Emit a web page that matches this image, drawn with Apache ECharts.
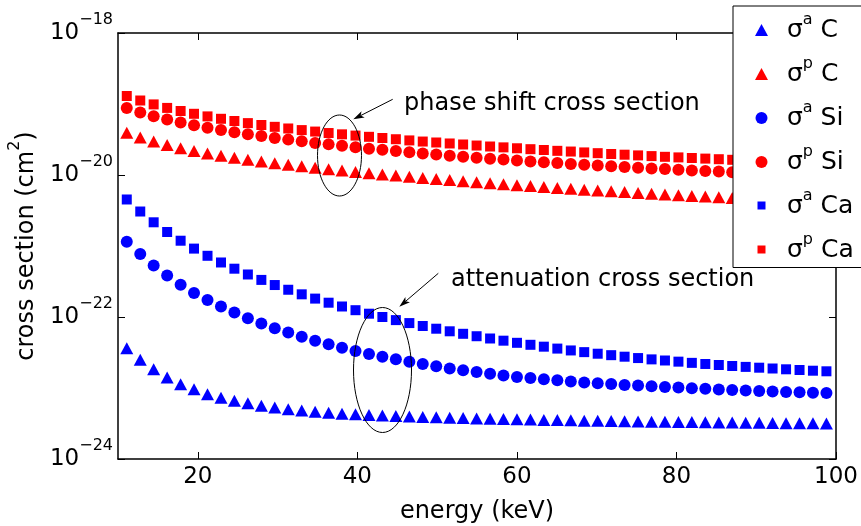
<!DOCTYPE html>
<html><head><meta charset="utf-8">
<script src="https://cdn.jsdelivr.net/npm/echarts@6/dist/echarts.min.js"></script>
<style>html,body{margin:0;padding:0;background:#fff}#c{width:861px;height:526px}</style>
</head><body><div id="c"></div>
<script>
// ---- data ----
const energy = [11.10,12.79,14.47,16.16,17.85,19.53,21.22,22.91,24.59,26.28,27.97,29.65,31.34,33.03,34.71,36.40,38.08,39.77,41.46,43.14,44.83,46.52,48.20,49.89,51.58,53.26,54.95,56.64,58.32,60.01,61.70,63.38,65.07,66.76,68.44,70.13,71.82,73.50,75.19,76.88,78.56,80.25,81.93,83.62,85.31,86.99,88.68,90.37,92.05,93.74,95.43,97.11,98.80];
const sigmaA_C = [3.62e-23,2.50e-23,1.83e-23,1.40e-23,1.13e-23,9.62e-24,8.18e-24,7.30e-24,6.60e-24,6.09e-24,5.61e-24,5.31e-24,5.03e-24,4.82e-24,4.64e-24,4.47e-24,4.35e-24,4.26e-24,4.17e-24,4.10e-24,4.03e-24,3.97e-24,3.92e-24,3.87e-24,3.82e-24,3.78e-24,3.73e-24,3.69e-24,3.66e-24,3.62e-24,3.59e-24,3.55e-24,3.53e-24,3.50e-24,3.47e-24,3.45e-24,3.43e-24,3.41e-24,3.38e-24,3.36e-24,3.34e-24,3.32e-24,3.31e-24,3.29e-24,3.27e-24,3.26e-24,3.24e-24,3.23e-24,3.21e-24,3.20e-24,3.19e-24,3.18e-24,3.16e-24];
const sigmaP_C = [3.93e-20,3.38e-20,2.96e-20,2.65e-20,2.39e-20,2.185e-20,2.015e-20,1.870e-20,1.747e-20,1.643e-20,1.549e-20,1.466e-20,1.392e-20,1.326e-20,1.263e-20,1.207e-20,1.153e-20,1.106e-20,1.060e-20,1.020e-20,9.81e-21,9.43e-21,9.10e-21,8.78e-21,8.48e-21,8.18e-21,7.92e-21,7.66e-21,7.42e-21,7.18e-21,6.98e-21,6.78e-21,6.58e-21,6.39e-21,6.21e-21,6.05e-21,5.89e-21,5.74e-21,5.60e-21,5.45e-21,5.31e-21,5.19e-21,5.08e-21,4.96e-21,4.85e-21,4.75e-21,4.64e-21,4.53e-21,4.44e-21,4.36e-21,4.28e-21,4.19e-21,4.11e-21];
const sigmaA_Si = [1.150e-21,7.71e-22,5.33e-22,3.83e-22,2.84e-22,2.185e-22,1.730e-22,1.401e-22,1.153e-22,9.62e-23,8.13e-23,6.96e-23,6.03e-23,5.26e-23,4.64e-23,4.13e-23,3.69e-23,3.33e-23,3.02e-23,2.76e-23,2.54e-23,2.34e-23,2.17e-23,2.02e-23,1.888e-23,1.776e-23,1.675e-23,1.585e-23,1.505e-23,1.433e-23,1.383e-23,1.330e-23,1.284e-23,1.239e-23,1.199e-23,1.165e-23,1.135e-23,1.106e-23,1.081e-23,1.057e-23,1.033e-23,1.013e-23,9.94e-24,9.74e-24,9.56e-24,9.40e-24,9.25e-24,9.10e-24,8.96e-24,8.81e-24,8.70e-24,8.59e-24,8.48e-24];
const sigmaP_Si = [8.78e-20,7.59e-20,6.73e-20,6.05e-20,5.49e-20,5.03e-20,4.64e-20,4.30e-20,4.01e-20,3.75e-20,3.53e-20,3.33e-20,3.15e-20,2.98e-20,2.83e-20,2.70e-20,2.58e-20,2.46e-20,2.35e-20,2.26e-20,2.17e-20,2.09e-20,2.01e-20,1.938e-20,1.870e-20,1.810e-20,1.752e-20,1.696e-20,1.648e-20,1.600e-20,1.554e-20,1.510e-20,1.471e-20,1.433e-20,1.397e-20,1.361e-20,1.326e-20,1.296e-20,1.267e-20,1.239e-20,1.211e-20,1.184e-20,1.161e-20,1.138e-20,1.117e-20,1.095e-20,1.074e-20,1.053e-20,1.036e-20,1.020e-20,1.003e-20,9.87e-21,9.71e-21];
const sigmaA_Ca = [4.52e-21,3.06e-21,2.157e-21,1.575e-21,1.187e-21,9.19e-22,7.28e-22,5.86e-22,4.79e-22,3.97e-22,3.33e-22,2.82e-22,2.42e-22,2.087e-22,1.816e-22,1.590e-22,1.406e-22,1.247e-22,1.113e-22,1.000e-22,9.04e-23,8.21e-23,7.47e-23,6.84e-23,6.29e-23,5.80e-23,5.36e-23,4.98e-23,4.64e-23,4.33e-23,4.06e-23,3.82e-23,3.59e-23,3.38e-23,3.20e-23,3.04e-23,2.90e-23,2.76e-23,2.64e-23,2.53e-23,2.44e-23,2.35e-23,2.26e-23,2.18e-23,2.11e-23,2.04e-23,1.983e-23,1.932e-23,1.882e-23,1.834e-23,1.792e-23,1.752e-23,1.719e-23];
const sigmaP_Ca = [1.296e-19,1.120e-19,9.87e-20,8.81e-20,7.97e-20,7.28e-20,6.69e-20,6.19e-20,5.76e-20,5.38e-20,5.06e-20,4.77e-20,4.52e-20,4.29e-20,4.09e-20,3.90e-20,3.74e-20,3.59e-20,3.45e-20,3.32e-20,3.19e-20,3.07e-20,2.96e-20,2.87e-20,2.78e-20,2.69e-20,2.60e-20,2.52e-20,2.45e-20,2.38e-20,2.31e-20,2.25e-20,2.19e-20,2.14e-20,2.08e-20,2.03e-20,1.976e-20,1.932e-20,1.888e-20,1.846e-20,1.804e-20,1.770e-20,1.735e-20,1.702e-20,1.669e-20,1.637e-20,1.605e-20,1.575e-20,1.549e-20,1.524e-20,1.500e-20,1.476e-20,1.452e-20];
const seriesSup = ['a','p','a','p','a','p'];
const seriesElem = ['C','C','Si','Si','Ca','Ca'];
const xTicks = [20,40,60,80,100];
const yTickExp = [-24,-22,-20,-18];
const xAxisTitle = 'energy (keV)';
const yAxisTitle = ['cross section (cm','2',')'];
const noteTexts = ['phase shift cross section','attenuation cross section'];

// ---- chart ----
// ECharts' log scale rounds values below ~1e-20 to 0, so the axis works in units of 1e-24 cm^2
// and the labels show the true powers of ten.
const Y_UNIT = 1e-24;
const FONT = 'DejaVu Sans';
const seriesData = [sigmaA_C, sigmaP_C, sigmaA_Si, sigmaP_Si, sigmaA_Ca, sigmaP_Ca];
const colors = ['#0000ff','#ff0000','#0000ff','#ff0000','#0000ff','#ff0000'];
const symbols = ['triangle','triangle','circle','circle','rect','rect'];
const symSizes = [[13,12],[13,12],12,12,10,10];
const names = seriesSup.map((s,i)=>'σ'+s+' '+seriesElem[i]);
const sqIcon = 'path://M0,0M13,12M2.5,1.5L10.5,1.5L10.5,9.5L2.5,9.5Z';
const legendIcons = ['triangle','triangle','circle','circle',sqIcon,sqIcon];
const yMin = Math.pow(10, yTickExp[0]) / Y_UNIT;
const yMax = Math.pow(10, yTickExp[yTickExp.length-1]) / Y_UNIT;

const chart = echarts.init(document.getElementById('c'), null, {renderer:'canvas'});

function arrow(x1,y1,x2,y2){
  const dx=x2-x1, dy=y2-y1, L=Math.hypot(dx,dy), ux=dx/L, uy=dy/L, hl=11, hw=3.5;
  const bx=x2-ux*hl, by=y2-uy*hl, nx=x2-ux*hl*0.75, ny=y2-uy*hl*0.75;
  return [
    {type:'line', z:100, shape:{x1:x1,y1:y1,x2:nx,y2:ny}, style:{stroke:'#000', lineWidth:1}},
    {type:'polygon', z:100, shape:{points:[[x2,y2],[bx-uy*hw,by+ux*hw],[nx,ny],[bx+uy*hw,by-ux*hw]]}, style:{fill:'#000'}}
  ];
}

const axisLineStyle = {color:'#000', width:1.5};
const tickStyle = {color:'#000', width:1};
const option = {
  animation:false,
  backgroundColor:'#fff',
  grid:{left:118, right:25, top:33, bottom:67, containLabel:false, outerBoundsMode:'none'},
  xAxis:[
    {type:'value', min:10, max:100, position:'bottom',
     axisLine:{show:true, onZero:false, lineStyle:axisLineStyle},
     axisTick:{show:true, inside:true, length:7, customValues:xTicks, lineStyle:tickStyle},
     axisLabel:{customValues:xTicks, fontFamily:FONT, fontSize:23, color:'#000', margin:7},
     splitLine:{show:false},
     name:xAxisTitle, nameLocation:'middle', nameGap:41,
     nameTextStyle:{fontFamily:FONT, fontSize:24, color:'#000'}},
    {type:'value', min:10, max:100, position:'top',
     axisLine:{show:true, onZero:false, lineStyle:axisLineStyle},
     axisTick:{show:true, inside:true, length:7, customValues:xTicks, lineStyle:tickStyle},
     axisLabel:{show:false}, splitLine:{show:false}}
  ],
  yAxis:[
    {type:'log', logBase:10, min:yMin, max:yMax, interval:2, position:'left',
     axisLine:{show:true, onZero:false, lineStyle:axisLineStyle},
     axisTick:{show:true, inside:true, length:7, lineStyle:tickStyle},
     minorTick:{show:false}, splitLine:{show:false},
     axisLabel:{margin:5, color:'#000',
       formatter:function(v){
         const e = Math.round(Math.log10(v * Y_UNIT));
         const k = yTickExp.indexOf(e);
         if (k<0) return '';
         return '{b|10}{s|\u2212'+Math.abs(yTickExp[k])+'}';
       },
       rich:{b:{fontFamily:FONT, fontSize:23, lineHeight:42, color:'#000'},
             s:{fontFamily:FONT, fontSize:16, lineHeight:16, verticalAlign:'top', color:'#000'}}},
     name:'{n|'+yAxisTitle[0]+'}{s|'+yAxisTitle[1]+'}{n|'+yAxisTitle[2]+'}',
     nameLocation:'middle', nameGap:68,
     nameTextStyle:{color:'#000', rich:{
       n:{fontFamily:FONT, fontSize:24, lineHeight:40, color:'#000'},
       s:{fontFamily:FONT, fontSize:16, lineHeight:16, verticalAlign:'top', color:'#000'}}}},
    {type:'log', logBase:10, min:yMin, max:yMax, interval:2, position:'right',
     axisLine:{show:true, onZero:false, lineStyle:axisLineStyle},
     axisTick:{show:true, inside:true, length:7, lineStyle:tickStyle},
     minorTick:{show:false}, splitLine:{show:false}, axisLabel:{show:false}}
  ],
  legend:{
    orient:'vertical', left:733, top:6, padding:[6,20,5,22], itemGap:13.5,
    itemWidth:13, itemHeight:12, backgroundColor:'#fff', borderColor:'#000', borderWidth:1,
    borderRadius:0, selectedMode:false, z:10,
    data:names.map((n,i)=>({name:n, icon:legendIcons[i]})),
    formatter:function(name){
      const i = names.indexOf(name);
      return '{sp| }{m|σ}{s|'+seriesSup[i]+'}{m| '+seriesElem[i]+'}';
    },
    textStyle:{color:'#000', rich:{
      sp:{width:14, fontSize:10},
      m:{fontFamily:FONT, fontSize:25, lineHeight:36, color:'#000'},
      s:{fontFamily:FONT, fontSize:16, lineHeight:15, verticalAlign:'top', color:'#000'}}}
  },
  series: seriesData.map((arr,i)=>({
    name:names[i], type:'scatter', xAxisIndex:0, yAxisIndex:0,
    symbol:symbols[i], symbolSize:symSizes[i],
    itemStyle:{color:colors[i], opacity:1},
    data: energy.map((e,j)=>[e, arr[j] / Y_UNIT])
  })),
  graphic:[
    {type:'ellipse', z:100, shape:{cx:339.5, cy:155.5, rx:22, ry:40.5}, style:{fill:'none', stroke:'#000', lineWidth:1}},
    {type:'ellipse', z:100, shape:{cx:382.5, cy:370, rx:29, ry:62.5}, style:{fill:'none', stroke:'#000', lineWidth:1}},
    ...arrow(392.7,99.3,353.3,119.3),
    ...arrow(438.3,273.3,399.3,306.7),
    {type:'text', z:100, x:404, y:103.5, style:{text:noteTexts[0], font:'24px "DejaVu Sans"', fill:'#000', align:'left', verticalAlign:'middle'}},
    {type:'text', z:100, x:451, y:280, style:{text:noteTexts[1], font:'24px "DejaVu Sans"', fill:'#000', align:'left', verticalAlign:'middle'}}
  ]
};
chart.setOption(option);
</script>
</body></html>
